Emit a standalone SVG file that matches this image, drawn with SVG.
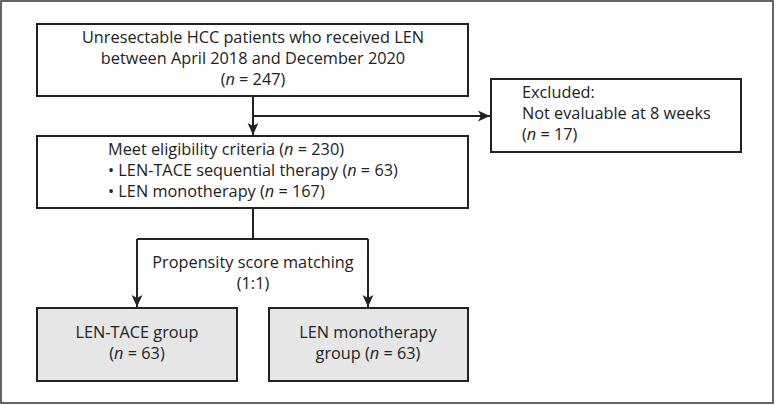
<svg xmlns="http://www.w3.org/2000/svg" width="779" height="405" viewBox="0 0 779 405">
<defs>
<marker id="ah" viewBox="0 0 10 10" refX="10" refY="5" markerWidth="12" markerHeight="12" markerUnits="userSpaceOnUse" orient="auto">
<path d="M0,0.5 L10,5 L0,9.5 L2.5,5 z" fill="#222"/>
</marker>
<style>
.box{fill:#fff;stroke:#222;stroke-width:2}
.grey{fill:#e6e6e6;stroke:#222;stroke-width:2}
.t{font-family:"Open Sans","Noto Sans",sans-serif;font-size:16.3px;fill:#222}
.c{text-anchor:middle}
.ln{fill:none;stroke:#222;stroke-width:2}
</style>
</defs>
<rect x="1" y="1" width="772" height="402" fill="#fff" stroke="#333" stroke-width="1.5"/>
<g id="connectors">
<path class="ln" d="M253,96 V135" marker-end="url(#ah)"/>
<path class="ln" d="M253,116 H490" marker-end="url(#ah)"/>
<path class="ln" d="M253,208 V239 M137,239 H368"/>
<path class="ln" d="M137,239 V307" marker-end="url(#ah)"/>
<path class="ln" d="M368,239 V307" marker-end="url(#ah)"/>
</g>
<g id="n1">
<rect class="box" x="37" y="24" width="431" height="72"/>
<text class="t c" x="253" y="43">Unresectable HCC patients who received LEN</text>
<text class="t c" x="253" y="64">between April 2018 and December 2020</text>
<text class="t c" x="253" y="85">(<tspan font-style="italic">n</tspan> = 247)</text>
</g>
<g id="n2">
<rect class="box" x="491" y="79" width="250" height="73"/>
<text class="t" x="522" y="98">Excluded:</text>
<text class="t" x="522" y="119">Not evaluable at 8 weeks</text>
<text class="t" x="522" y="140">(<tspan font-style="italic">n</tspan> = 17)</text>
</g>
<g id="n3">
<rect class="box" x="37" y="136" width="431" height="72"/>
<text class="t" x="108" y="155">Meet eligibility criteria (<tspan font-style="italic">n</tspan> = 230)</text>
<text class="t" x="108" y="176">• LEN-TACE sequential therapy (<tspan font-style="italic">n</tspan> = 63)</text>
<text class="t" x="108" y="197">• LEN monotherapy (<tspan font-style="italic">n</tspan> = 167)</text>
</g>
<g id="label">
<text class="t c" x="253" y="268">Propensity score matching</text>
<text class="t c" x="253" y="289">(1:1)</text>
</g>
<g id="n4">
<rect class="grey" x="37" y="308" width="200" height="73"/>
<text class="t c" x="137" y="338">LEN-TACE group</text>
<text class="t c" x="137" y="359">(<tspan font-style="italic">n</tspan> = 63)</text>
</g>
<g id="n5">
<rect class="grey" x="269" y="308" width="199" height="73"/>
<text class="t c" x="368" y="338">LEN monotherapy</text>
<text class="t c" x="368" y="359">group (<tspan font-style="italic">n</tspan> = 63)</text>
</g>
</svg>
